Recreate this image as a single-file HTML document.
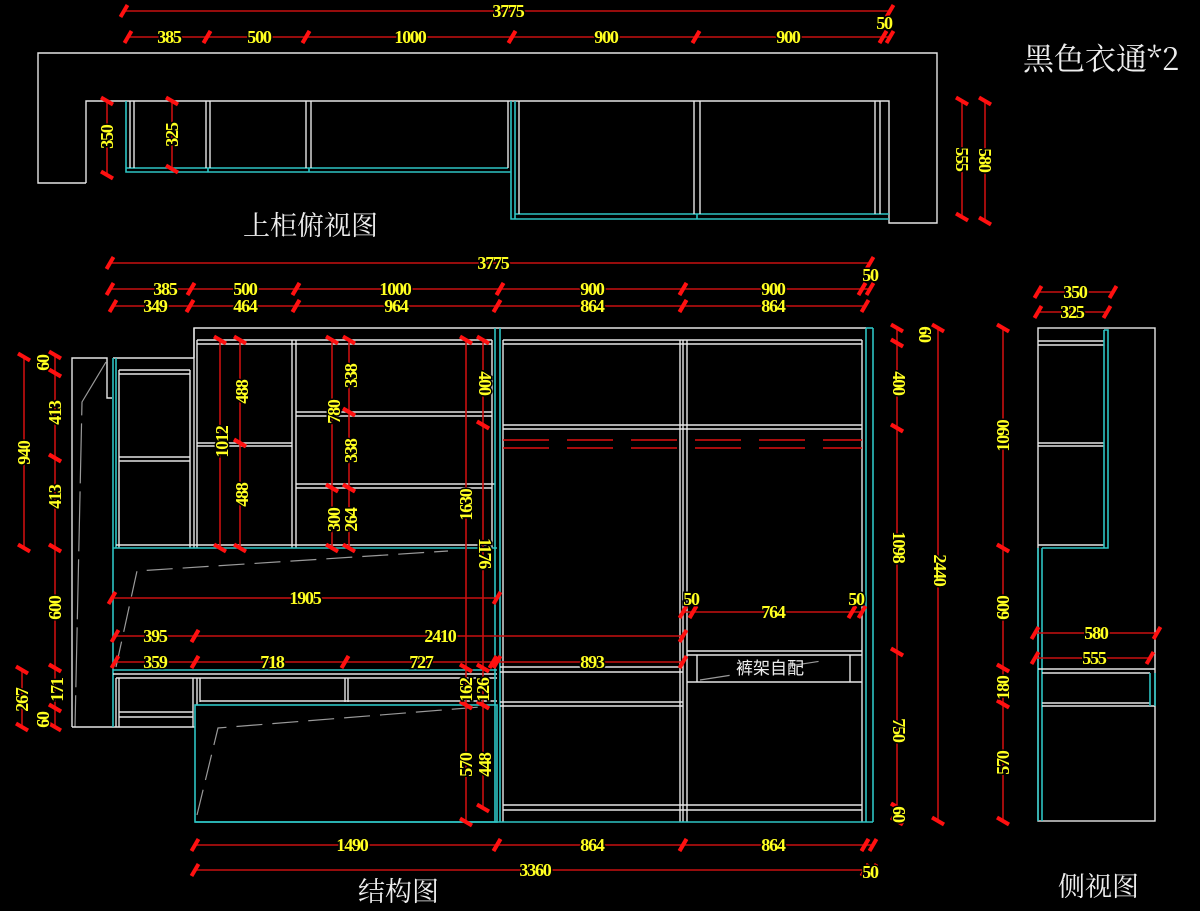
<!DOCTYPE html>
<html><head><meta charset="utf-8"><style>
html,body{margin:0;padding:0;background:#000;}
svg{display:block}
.w{stroke:#e6e6e6;stroke-width:1.4;fill:none}
.c{stroke:#2ec4c4;stroke-width:1.6;fill:none}
.g{stroke:#9a9a9a;stroke-width:1.2;fill:none;stroke-dasharray:26 10}
.r{stroke:#d01010;stroke-width:1.6;fill:none}
.rd{stroke:#e01010;stroke-width:1.6;fill:none;stroke-dasharray:46 18}
.d{stroke:#c81010;stroke-width:1.6;marker-start:url(#t);marker-end:url(#t)}
.y{fill:#ffff20;font-family:"Liberation Serif",serif;font-weight:bold;font-size:18px;letter-spacing:-1.2px;text-anchor:middle;dominant-baseline:central;paint-order:stroke;stroke:#000;stroke-width:3px}
.cn{fill:#eee;font-family:"Liberation Sans","Noto Sans CJK SC",sans-serif;font-size:26px}
</style></head><body>
<svg width="1200" height="911" viewBox="0 0 1200 911" xmlns="http://www.w3.org/2000/svg">
<defs>
<marker id="t" markerUnits="userSpaceOnUse" markerWidth="16" markerHeight="16" viewBox="-8 -8 16 16" refX="0" refY="0" orient="auto">
<path d="M-3.5,6 L3.5,-6" stroke="#ff1010" stroke-width="4"/>
</marker>
</defs>

<!-- ================= TOP VIEW ================= -->
<polyline class="w" points="86,183 38,183 38,53 937,53 937,223 889,223 889,101 86,101 86,183"/>
<polyline class="c" points="126,101 126,172 511,172"/>
<line class="c" x1="126" y1="168" x2="508" y2="168"/>
<line class="w" x1="130" y1="101" x2="130" y2="168"/>
<line class="w" x1="134" y1="101" x2="134" y2="168"/>
<line class="w" x1="206" y1="101" x2="206" y2="168"/>
<line class="w" x1="210" y1="101" x2="210" y2="168"/>
<line class="c" x1="208" y1="168" x2="208" y2="172"/>
<line class="w" x1="306" y1="101" x2="306" y2="168"/>
<line class="w" x1="311" y1="101" x2="311" y2="168"/>
<line class="c" x1="309" y1="168" x2="309" y2="172"/>
<line class="w" x1="508" y1="101" x2="508" y2="168"/>
<polyline class="c" points="511,101 511,219 889,219"/>
<line class="c" x1="515" y1="101" x2="515" y2="219"/>
<line class="c" x1="515" y1="214" x2="889" y2="214"/>
<line class="w" x1="519" y1="101" x2="519" y2="214"/>
<line class="w" x1="694" y1="101" x2="694" y2="214"/>
<line class="w" x1="700" y1="101" x2="700" y2="214"/>
<line class="c" x1="697" y1="214" x2="697" y2="219"/>
<line class="w" x1="875" y1="101" x2="875" y2="214"/>
<line class="w" x1="880" y1="101" x2="880" y2="214"/>
<line class="d" x1="124" y1="11" x2="890" y2="11"/>
<text class="y" x="508" y="11">3775</text>
<line class="d" x1="128" y1="37" x2="207" y2="37"/>
<line class="d" x1="207" y1="37" x2="306" y2="37"/>
<line class="d" x1="306" y1="37" x2="512" y2="37"/>
<line class="d" x1="512" y1="37" x2="696" y2="37"/>
<line class="d" x1="696" y1="37" x2="883" y2="37"/>
<line class="d" x1="883" y1="37" x2="890" y2="37"/>
<text class="y" x="169" y="37">385</text>
<text class="y" x="259" y="37">500</text>
<text class="y" x="410" y="37">1000</text>
<text class="y" x="606" y="37">900</text>
<text class="y" x="788" y="37">900</text>
<text class="y" x="884" y="23">50</text>
<line class="d" x1="107" y1="101" x2="107" y2="175"/>
<text class="y" transform="translate(107,137) rotate(-90)">350</text>
<line class="d" x1="172" y1="101" x2="172" y2="169"/>
<text class="y" transform="translate(172,135) rotate(-90)">325</text>
<line class="d" x1="962" y1="101" x2="962" y2="217"/>
<text class="y" transform="translate(962,159) rotate(90)">555</text>
<line class="d" x1="985" y1="101" x2="985" y2="221"/>
<text class="y" transform="translate(985,160) rotate(90)">580</text>
<text class="cn" x="243" y="235" style="font-family:'Noto Serif CJK SC','Noto Sans CJK SC',serif;font-size:27px">上柜俯视图</text>
<text class="cn" x="1023" y="70" style="font-family:'Noto Serif CJK SC','Noto Sans CJK SC',serif;font-size:31px">黑色衣通*2</text>

<!-- ================= MAIN ELEVATION ================= -->
<polyline class="w" points="194,358 194,328 866,328"/>
<line class="w" x1="197" y1="340" x2="492" y2="340"/>
<line class="w" x1="197" y1="344" x2="492" y2="344"/>
<line class="w" x1="503" y1="340" x2="862" y2="340"/>
<line class="w" x1="503" y1="344" x2="862" y2="344"/>
<polyline class="w" points="72,727 72,358 107,358 107,398 112,398"/>
<polyline class="g" points="106,362 82,402 75,727" style="stroke-dasharray:60 8"/>
<line class="w" x1="72" y1="727" x2="195" y2="727"/>
<line class="w" x1="113" y1="358" x2="194" y2="358"/>
<line class="c" x1="113" y1="358" x2="113" y2="727"/>
<line class="c" x1="116" y1="358" x2="116" y2="548"/>
<line class="w" x1="119" y1="370" x2="190" y2="370"/>
<line class="w" x1="119" y1="374" x2="190" y2="374"/>
<line class="w" x1="119" y1="457" x2="190" y2="457"/>
<line class="w" x1="119" y1="461" x2="190" y2="461"/>
<line class="w" x1="119" y1="370" x2="119" y2="548"/>
<line class="w" x1="190" y1="370" x2="190" y2="548"/>
<line class="w" x1="194" y1="328" x2="194" y2="548"/>
<line class="w" x1="197" y1="340" x2="197" y2="548"/>
<line class="w" x1="197" y1="443" x2="292" y2="443"/>
<line class="w" x1="197" y1="446" x2="292" y2="446"/>
<line class="w" x1="292" y1="340" x2="292" y2="548"/>
<line class="w" x1="296" y1="340" x2="296" y2="548"/>
<line class="w" x1="296" y1="412" x2="492" y2="412"/>
<line class="w" x1="296" y1="416" x2="492" y2="416"/>
<line class="w" x1="296" y1="484" x2="495" y2="484"/>
<line class="w" x1="296" y1="488" x2="492" y2="488"/>
<line class="w" x1="492" y1="340" x2="492" y2="548"/>
<line class="w" x1="116" y1="545" x2="492" y2="545"/>
<line class="c" x1="113" y1="548" x2="497" y2="548"/>
<polyline class="g" points="116,667 137,571 448,551"/>
<line class="c" x1="113" y1="670" x2="497" y2="670"/>
<line class="w" x1="113" y1="674" x2="497" y2="674"/>
<line class="w" x1="116" y1="678" x2="497" y2="678"/>
<line class="w" x1="119" y1="678" x2="119" y2="727"/>
<line class="w" x1="116" y1="678" x2="116" y2="727"/>
<line class="w" x1="119" y1="712" x2="193" y2="712"/>
<line class="w" x1="119" y1="717" x2="193" y2="717"/>
<line class="w" x1="193" y1="678" x2="193" y2="727"/>
<line class="w" x1="197" y1="678" x2="197" y2="705"/>
<line class="w" x1="200" y1="678" x2="200" y2="702"/>
<line class="w" x1="345" y1="678" x2="345" y2="702"/>
<line class="w" x1="348" y1="678" x2="348" y2="702"/>
<line class="w" x1="200" y1="701" x2="497" y2="701"/>
<rect class="c" x="195" y="705" width="302" height="117"/>
<polyline class="g" points="197,815 218,728 480,707"/>
<line class="c" x1="495" y1="328" x2="495" y2="822"/>
<line class="c" x1="500" y1="328" x2="500" y2="822"/>
<line class="w" x1="503" y1="340" x2="503" y2="822"/>
<line class="w" x1="680" y1="340" x2="680" y2="822"/>
<line class="w" x1="683" y1="340" x2="683" y2="822"/>
<line class="w" x1="687" y1="340" x2="687" y2="822"/>
<line class="w" x1="862" y1="340" x2="862" y2="822"/>
<line class="w" x1="503" y1="425" x2="862" y2="425"/>
<line class="w" x1="503" y1="429" x2="862" y2="429"/>
<line class="rd" x1="503" y1="440" x2="862" y2="440"/>
<line class="rd" x1="503" y1="448" x2="862" y2="448"/>
<line class="w" x1="500" y1="667" x2="683" y2="667"/>
<line class="w" x1="500" y1="672" x2="683" y2="672"/>
<line class="w" x1="500" y1="702" x2="683" y2="702"/>
<line class="w" x1="500" y1="706" x2="683" y2="706"/>
<line class="w" x1="687" y1="651" x2="862" y2="651"/>
<line class="w" x1="687" y1="655" x2="862" y2="655"/>
<line class="w" x1="687" y1="682" x2="862" y2="682"/>
<line class="w" x1="697" y1="655" x2="697" y2="682"/>
<line class="w" x1="850" y1="655" x2="850" y2="682"/>
<line class="g" x1="700" y1="680" x2="847" y2="657" style="stroke-dasharray:30 60"/>
<text class="cn" x="770" y="674" text-anchor="middle" style="font-size:17px">裤架自配</text>
<line class="w" x1="503" y1="805" x2="862" y2="805"/>
<line class="w" x1="503" y1="810" x2="862" y2="810"/>
<line class="c" x1="866" y1="328" x2="866" y2="822"/>
<line class="c" x1="873" y1="328" x2="873" y2="822"/>
<line class="c" x1="866" y1="328" x2="873" y2="328"/>
<line class="c" x1="195" y1="822" x2="873" y2="822"/>

<line class="d" x1="110" y1="263" x2="870" y2="263"/>
<text class="y" x="493" y="263">3775</text>
<line class="d" x1="110" y1="289" x2="191" y2="289"/>
<line class="d" x1="191" y1="289" x2="296" y2="289"/>
<line class="d" x1="296" y1="289" x2="500" y2="289"/>
<line class="d" x1="500" y1="289" x2="683" y2="289"/>
<line class="d" x1="683" y1="289" x2="862" y2="289"/>
<line class="d" x1="862" y1="289" x2="870" y2="289"/>
<text class="y" x="165" y="289">385</text>
<text class="y" x="245" y="289">500</text>
<text class="y" x="395" y="289">1000</text>
<text class="y" x="592" y="289">900</text>
<text class="y" x="773" y="289">900</text>
<text class="y" x="870" y="275">50</text>
<line class="d" x1="113" y1="306" x2="190" y2="306"/>
<line class="d" x1="190" y1="306" x2="296" y2="306"/>
<line class="d" x1="296" y1="306" x2="497" y2="306"/>
<line class="d" x1="497" y1="306" x2="683" y2="306"/>
<line class="d" x1="683" y1="306" x2="865" y2="306"/>
<text class="y" x="155" y="306">349</text>
<text class="y" x="245" y="306">464</text>
<text class="y" x="396" y="306">964</text>
<text class="y" x="592" y="306">864</text>
<text class="y" x="773" y="306">864</text>

<line class="d" x1="24" y1="357" x2="24" y2="548"/>
<text class="y" transform="translate(24,453) rotate(-90)">940</text>
<line class="d" x1="55" y1="355" x2="55" y2="373"/>
<line class="d" x1="55" y1="373" x2="55" y2="458"/>
<line class="d" x1="55" y1="458" x2="55" y2="548"/>
<line class="d" x1="55" y1="548" x2="55" y2="668"/>
<line class="d" x1="55" y1="668" x2="55" y2="708"/>
<line class="d" x1="55" y1="708" x2="55" y2="727"/>
<text class="y" transform="translate(43,363) rotate(-90)">60</text>
<text class="y" transform="translate(55,413) rotate(-90)">413</text>
<text class="y" transform="translate(55,497) rotate(-90)">413</text>
<text class="y" transform="translate(55,608) rotate(-90)">600</text>
<text class="y" transform="translate(57,690) rotate(-90)">171</text>
<text class="y" transform="translate(43,720) rotate(-90)">60</text>
<line class="d" x1="22" y1="670" x2="22" y2="727"/>
<text class="y" transform="translate(22,700) rotate(-90)">267</text>

<line class="d" x1="220" y1="340" x2="220" y2="548"/>
<text class="y" transform="translate(222,442) rotate(-90)">1012</text>
<line class="d" x1="240" y1="340" x2="240" y2="443"/>
<line class="d" x1="240" y1="443" x2="240" y2="548"/>
<text class="y" transform="translate(242,392) rotate(-90)">488</text>
<text class="y" transform="translate(242,495) rotate(-90)">488</text>
<line class="d" x1="332" y1="340" x2="332" y2="488"/>
<line class="d" x1="332" y1="488" x2="332" y2="548"/>
<text class="y" transform="translate(334,412) rotate(-90)">780</text>
<text class="y" transform="translate(334,520) rotate(-90)">300</text>
<line class="d" x1="349" y1="340" x2="349" y2="412"/>
<line class="d" x1="349" y1="412" x2="349" y2="488"/>
<line class="d" x1="349" y1="488" x2="349" y2="548"/>
<text class="y" transform="translate(351,376) rotate(-90)">338</text>
<text class="y" transform="translate(351,451) rotate(-90)">338</text>
<text class="y" transform="translate(351,520) rotate(-90)">264</text>
<line class="d" x1="466" y1="340" x2="466" y2="668"/>
<line class="d" x1="466" y1="668" x2="466" y2="705"/>
<line class="d" x1="466" y1="705" x2="466" y2="822"/>
<text class="y" transform="translate(466,505) rotate(-90)">1630</text>
<text class="y" transform="translate(466,690) rotate(-90)">162</text>
<text class="y" transform="translate(466,765) rotate(-90)">570</text>
<line class="d" x1="483" y1="340" x2="483" y2="425"/>
<line class="d" x1="483" y1="425" x2="483" y2="668"/>
<line class="d" x1="483" y1="668" x2="483" y2="705"/>
<line class="d" x1="483" y1="705" x2="483" y2="808"/>
<text class="y" transform="translate(485,383) rotate(90)">400</text>
<text class="y" transform="translate(485,553) rotate(90)">1176</text>
<text class="y" transform="translate(483,690) rotate(-90)">126</text>
<text class="y" transform="translate(485,765) rotate(-90)">448</text>

<line class="d" x1="112" y1="598" x2="497" y2="598"/>
<text class="y" x="305" y="598">1905</text>
<line class="d" x1="115" y1="636" x2="195" y2="636"/>
<line class="d" x1="195" y1="636" x2="683" y2="636"/>
<text class="y" x="155" y="636">395</text>
<text class="y" x="440" y="636">2410</text>
<line class="d" x1="115" y1="662" x2="195" y2="662"/>
<line class="d" x1="195" y1="662" x2="345" y2="662"/>
<line class="d" x1="345" y1="662" x2="493" y2="662"/>
<line class="d" x1="497" y1="662" x2="683" y2="662"/>
<text class="y" x="155" y="662">359</text>
<text class="y" x="272" y="662">718</text>
<text class="y" x="421" y="662">727</text>
<text class="y" x="592" y="662">893</text>
<line class="d" x1="683" y1="612" x2="693" y2="612"/>
<line class="d" x1="693" y1="612" x2="852" y2="612"/>
<line class="d" x1="852" y1="612" x2="862" y2="612"/>
<text class="y" x="691" y="599">50</text>
<text class="y" x="773" y="612">764</text>
<text class="y" x="856" y="599">50</text>

<line class="d" x1="897" y1="328" x2="897" y2="343"/>
<line class="d" x1="897" y1="343" x2="897" y2="428"/>
<line class="d" x1="897" y1="428" x2="897" y2="652"/>
<line class="d" x1="897" y1="652" x2="897" y2="807"/>
<line class="d" x1="897" y1="807" x2="897" y2="821"/>
<text class="y" transform="translate(925,334) rotate(90)">60</text>
<text class="y" transform="translate(899,383) rotate(90)">400</text>
<text class="y" transform="translate(899,547) rotate(90)">1098</text>
<text class="y" transform="translate(899,730) rotate(90)">750</text>
<text class="y" transform="translate(899,814) rotate(90)">60</text>
<line class="d" x1="938" y1="328" x2="938" y2="821"/>
<text class="y" transform="translate(940,570) rotate(90)">2440</text>

<line class="d" x1="195" y1="845" x2="497" y2="845"/>
<line class="d" x1="497" y1="845" x2="683" y2="845"/>
<line class="d" x1="683" y1="845" x2="865" y2="845"/>
<line class="d" x1="865" y1="845" x2="873" y2="845"/>
<text class="y" x="352" y="845">1490</text>
<text class="y" x="592" y="845">864</text>
<text class="y" x="773" y="845">864</text>
<line class="d" x1="195" y1="870" x2="865" y2="870"/>
<line class="d" x1="865" y1="870" x2="873" y2="870"/>
<text class="y" x="535" y="870">3360</text>
<text class="y" x="870" y="872">50</text>
<text class="cn" x="358" y="901" style="font-family:'Noto Serif CJK SC','Noto Sans CJK SC',serif;font-size:27px">结构图</text>

<!-- ================= SIDE VIEW ================= -->
<rect class="w" x="1038" y="328" width="117" height="493"/>
<line class="w" x1="1038" y1="341" x2="1104" y2="341"/>
<line class="w" x1="1038" y1="345" x2="1104" y2="345"/>
<line class="w" x1="1038" y1="443" x2="1104" y2="443"/>
<line class="w" x1="1038" y1="446" x2="1104" y2="446"/>
<line class="w" x1="1038" y1="545" x2="1104" y2="545"/>
<polyline class="c" points="1104,330 1108,330 1108,548 1042,548"/>
<line class="c" x1="1104" y1="330" x2="1104" y2="548"/>
<line class="c" x1="1038" y1="548" x2="1038" y2="821"/>
<line class="c" x1="1042" y1="548" x2="1042" y2="821"/>
<line class="w" x1="1038" y1="669" x2="1155" y2="669"/>
<line class="w" x1="1042" y1="673" x2="1150" y2="673"/>
<line class="w" x1="1042" y1="703" x2="1150" y2="703"/>
<line class="w" x1="1042" y1="706" x2="1155" y2="706"/>
<line class="c" x1="1150" y1="673" x2="1150" y2="706"/>
<line class="c" x1="1155" y1="673" x2="1155" y2="706"/>
<line class="d" x1="1038" y1="292" x2="1113" y2="292"/>
<text class="y" x="1075" y="292">350</text>
<line class="d" x1="1038" y1="312" x2="1107" y2="312"/>
<text class="y" x="1072" y="312">325</text>
<line class="d" x1="1003" y1="328" x2="1003" y2="548"/>
<line class="d" x1="1003" y1="548" x2="1003" y2="668"/>
<line class="d" x1="1003" y1="668" x2="1003" y2="704"/>
<line class="d" x1="1003" y1="704" x2="1003" y2="821"/>
<text class="y" transform="translate(1003,436) rotate(-90)">1090</text>
<text class="y" transform="translate(1003,608) rotate(-90)">600</text>
<text class="y" transform="translate(1003,688) rotate(-90)">180</text>
<text class="y" transform="translate(1003,763) rotate(-90)">570</text>
<line class="d" x1="1035" y1="633" x2="1157" y2="633"/>
<text class="y" x="1096" y="633">580</text>
<line class="d" x1="1035" y1="658" x2="1150" y2="658"/>
<text class="y" x="1094" y="658">555</text>
<text class="cn" x="1058" y="896" style="font-family:'Noto Serif CJK SC','Noto Sans CJK SC',serif;font-size:27px">侧视图</text>
</svg>
</body></html>
